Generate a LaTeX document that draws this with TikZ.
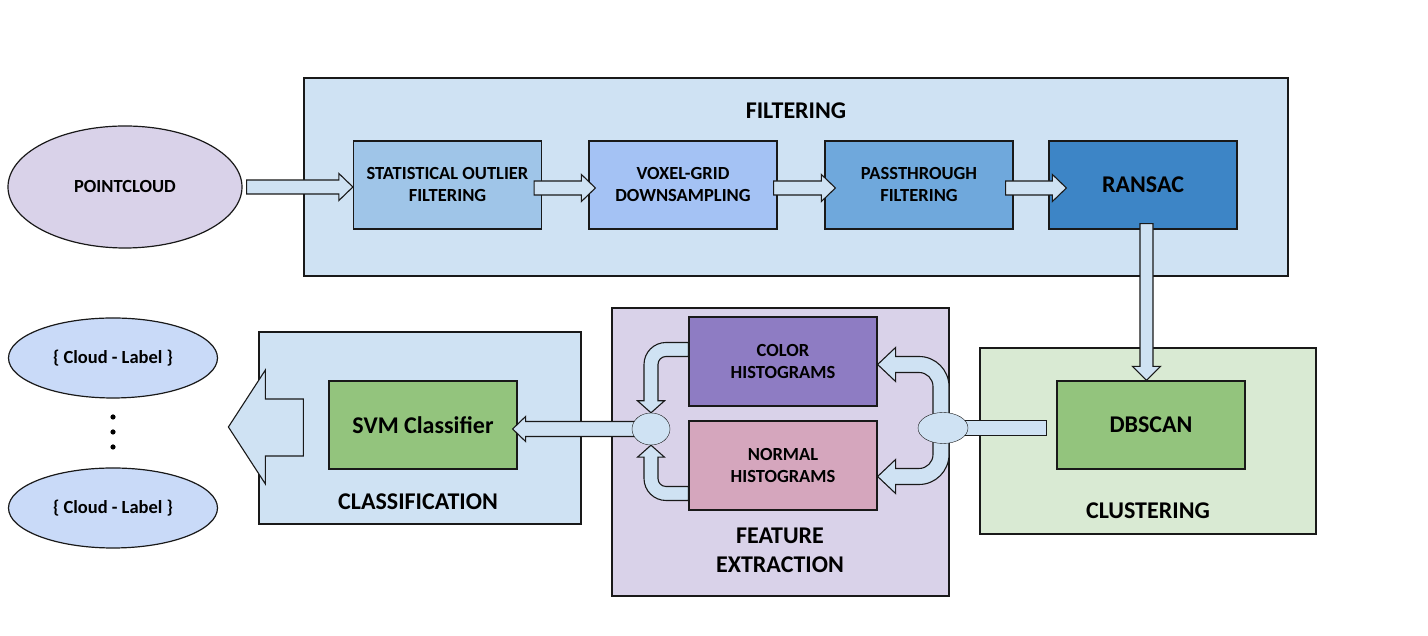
\documentclass[tikz,border=0pt]{standalone}
\usepackage{fontspec}
\setmainfont{Carlito}
\usetikzlibrary{shapes.geometric,calc,positioning}
\pgfdeclarelayer{fg}
\pgfsetlayers{main,fg}

\definecolor{paleblue}{HTML}{CFE2F3}
\definecolor{palegreen}{HTML}{D9EAD3}
\definecolor{palelilac}{HTML}{D9D2E9}
\definecolor{statblue}{HTML}{9FC5E8}
\definecolor{voxblue}{HTML}{A4C2F4}
\definecolor{passblue}{HTML}{6FA8DC}
\definecolor{ransacblue}{HTML}{3D85C6}
\definecolor{leafgreen}{HTML}{93C47D}
\definecolor{colorpurple}{HTML}{8E7CC3}
\definecolor{normalpink}{HTML}{D5A6BD}
\definecolor{labelblue}{HTML}{C9DAF8}

\begin{document}
\begin{tikzpicture}[x=1pt,y=1pt,line width=1.2pt,
  group/.style={draw=black!90, inner sep=0pt},
  stage/.style={draw=black!90, minimum width=188pt, minimum height=88pt, inner sep=0pt,
    align=center, font=\fontsize{18.5}{22}\selectfont\bfseries},
  bigstage/.style={stage, font=\fontsize{24}{29}\selectfont\bfseries},
  heading/.style={align=center, font=\fontsize{24}{29}\selectfont\bfseries},
  blob/.style={ellipse, draw=black!90, inner sep=0pt, font=\fontsize{18.5}{22}\selectfont\bfseries},
  hub/.style={ellipse, draw=black!90, fill=paleblue, inner sep=0pt},
  blockarr/.style={draw=black!90, fill=paleblue, line width=1.1pt, line join=miter}]

  \useasboundingbox (0,0) rectangle (1428,636);

  % the four groups
  \node [group, fill=paleblue, minimum width=984pt, minimum height=198pt] (filt) at (796,459) {};
  \node [group, fill=paleblue, minimum width=322pt, minimum height=192pt] (cls) at (420,208) {};
  \node [group, fill=palelilac, minimum width=337pt, minimum height=288pt] (feat) at (780.5,184) {};
  \node [group, fill=palegreen, minimum width=336pt, minimum height=186pt] (clu) at (1148,195) {};

  \node [heading] at (796,525) {FILTERING};
  \node [heading] at (418,134) {CLASSIFICATION};
  \node [heading] at (1148,125) {CLUSTERING};
  \node [heading, font=\fontsize{24}{29}\selectfont\bfseries] at (780,86) {FEATURE\\EXTRACTION};

  \node [blob, fill=palelilac, minimum width=234pt, minimum height=122pt] (pc) at (125,449) {POINTCLOUD};

  \node [stage, fill=statblue] (stat) at (447.5,451) {STATISTICAL OUTLIER\\FILTERING};
  \node [stage, fill=voxblue] (vox) at (683,451) {VOXEL-GRID\\DOWNSAMPLING};
  \node [stage, fill=passblue] (pass) at (919,451) {PASSTHROUGH\\FILTERING};
  \node [bigstage, fill=ransacblue] (ran) at (1143,451) {RANSAC};

  \node [bigstage, fill=leafgreen] (db) at (1151,211) {DBSCAN};
  \node [stage, fill=colorpurple, minimum height=89pt] (col) at (783,274.5) {COLOR\\HISTOGRAMS};
  \node [stage, fill=normalpink, minimum height=89pt] (nor) at (783,170.5) {NORMAL\\HISTOGRAMS};
  \node [bigstage, font=\fontsize{24}{29}\selectfont\bfseries, fill=leafgreen] (svm) at (423,211) {SVM Classifier};

  \node [blob, fill=labelblue, minimum width=209pt, minimum height=80pt] (out1) at (113,278) {\{ Cloud - Label \}};
  \node [blob, fill=labelblue, minimum width=209pt, minimum height=80pt] (out2) at (113,128) {\{ Cloud - Label \}};
  \foreach \y in {219,204,189}
    \fill (113,\y) circle (2.6pt);

  \begin{pgfonlayer}{fg}
    \node [hub, minimum width=38pt, minimum height=32pt] (fl) at (651,207) {};
    \node [hub, minimum width=50pt, minimum height=31pt] (fr) at (943,208) {};
  \end{pgfonlayer}

  % straight block arrows
  \draw [blockarr] let \p1=($(pc.east)+(4,0)$), \p2=(stat.west) in
    (\x1,\y1+7) -- (\x2-14,\y1+7) -- (\x2-14,\y1+13.5) -- (\x2,\y1) -- (\x2-14,\y1-13.5) -- (\x2-14,\y1-7) -- (\x1,\y1-7) -- cycle;
  \draw [blockarr] let \p1=($(stat.east)+(-8,-3)$), \p2=($(vox.west)+(7,0)$) in
    (\x1,\y1+7) -- (\x2-14,\y1+7) -- (\x2-14,\y1+13.5) -- (\x2,\y1) -- (\x2-14,\y1-13.5) -- (\x2-14,\y1-7) -- (\x1,\y1-7) -- cycle;
  \draw [blockarr] let \p1=($(vox.east)+(-4,-3)$), \p2=($(pass.west)+(11,0)$) in
    (\x1,\y1+7) -- (\x2-14,\y1+7) -- (\x2-14,\y1+13.5) -- (\x2,\y1) -- (\x2-14,\y1-13.5) -- (\x2-14,\y1-7) -- (\x1,\y1-7) -- cycle;
  \draw [blockarr] let \p1=($(pass.east)+(-8,-3)$), \p2=($(ran.west)+(18,0)$) in
    (\x1,\y1+7) -- (\x2-14,\y1+7) -- (\x2-14,\y1+13.5) -- (\x2,\y1) -- (\x2-14,\y1-13.5) -- (\x2-14,\y1-7) -- (\x1,\y1-7) -- cycle;
  \draw [blockarr] let \p1=($(ran.south)+(3.5,6)$), \p2=(db.north) in
    (\x1-6.5,\y1) -- (\x1-6.5,\y2+14) -- (\x1-14,\y2+14) -- (\x1,\y2) -- (\x1+14,\y2+14) -- (\x1+6.5,\y2+14) -- (\x1+6.5,\y1) -- cycle;
  \draw [blockarr] let \p1=(fl.center), \p2=($(svm.east)+(-5,0)$) in
    (\x1,\y1+7.5) -- (\x2+13,\y1+7.5) -- (\x2+13,\y1+12.5) -- (\x2,\y1) -- (\x2+13,\y1-12.5) -- (\x2+13,\y1-7.5) -- (\x1,\y1-7.5) -- cycle;
  \draw [blockarr] let \p1=(fr.center), \p2=(db.west) in
    (\x1,\y1+7.5) rectangle (\x2-10,\y1-7.5);

  % bent block arrows into and out of the histograms
  \draw [blockarr] let \p1=($(col.west)+(0,12)$), \p2=(fl.north) in
    (\x1,\y1+7) -- (\x2+15,\y1+7) arc[start angle=90,end angle=180,radius=22pt]
    -- (\x2-7,\y2+12) -- (\x2-13.5,\y2+12) -- (\x2,\y2) -- (\x2+13.5,\y2+12) -- (\x2+7,\y2+12)
    -- (\x2+7,\y1-15) arc[start angle=180,end angle=90,radius=8pt] -- (\x1,\y1-7) -- cycle;
  \draw [blockarr] let \p1=($(nor.west)+(0,-28)$), \p2=(fl.south) in
    (\x1,\y1-7) -- (\x2+15,\y1-7) arc[start angle=270,end angle=180,radius=22pt]
    -- (\x2-7,\y2-12) -- (\x2-13.5,\y2-12) -- (\x2,\y2) -- (\x2+13.5,\y2-12) -- (\x2+7,\y2-12)
    -- (\x2+7,\y1+15) arc[start angle=180,end angle=270,radius=8pt] -- (\x1,\y1+7) -- cycle;
  \draw [blockarr] let \p1=($(fr.center)+(-2,0)$), \p2=($(col.east)+(0,-3)$) in
    (\x1-8,\y1) -- (\x1-8,\y2-22) arc[start angle=0,end angle=90,radius=14pt]
    -- (\x2+18,\y2-8) -- (\x2+18,\y2-17) -- (\x2,\y2) -- (\x2+18,\y2+17) -- (\x2+18,\y2+8)
    -- (\x1-22,\y2+8) arc[start angle=90,end angle=0,radius=30pt] -- (\x1+8,\y1) -- cycle;
  \draw [blockarr] let \p1=($(fr.center)+(-2,0)$), \p2=($(nor.east)+(0,-11)$) in
    (\x1-8,\y1) -- (\x1-8,\y2+22) arc[start angle=0,end angle=-90,radius=14pt]
    -- (\x2+18,\y2+8) -- (\x2+18,\y2+17) -- (\x2,\y2) -- (\x2+18,\y2-17) -- (\x2+18,\y2-8)
    -- (\x1-22,\y2-8) arc[start angle=270,end angle=360,radius=30pt] -- (\x1+8,\y1) -- cycle;

  % wide arrow out of the classifier
  \draw [blockarr] let \p1=(cls.west) in
    (\x1+45,\y1+29) -- (\x1+7,\y1+29) -- (\x1+7,\y1+58) -- (\x1-30,\y1+1) -- (\x1+7,\y1-56) -- (\x1+7,\y1-28) -- (\x1+45,\y1-28) -- cycle;

\end{tikzpicture}
\end{document}
